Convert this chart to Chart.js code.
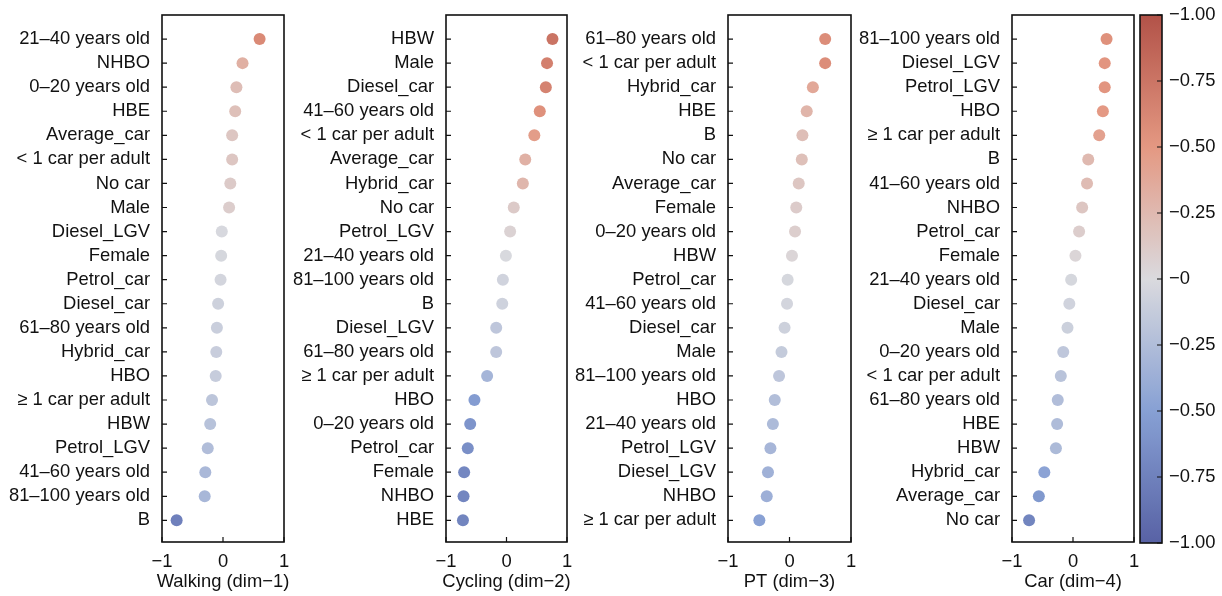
<!DOCTYPE html>
<html><head><meta charset="utf-8">
<script src="https://cdn.jsdelivr.net/npm/chart.js@4/dist/chart.umd.min.js"></script>
<style>
html,body{margin:0;padding:0;background:#fff;}
#wrap{position:relative;width:1222px;height:596px;overflow:hidden;background:#fff;}
canvas{position:absolute;top:0;}
</style></head><body><div id="wrap">
<canvas id="c1"></canvas><canvas id="c2"></canvas><canvas id="c3"></canvas><canvas id="c4"></canvas><canvas id="cb"></canvas>
</div>
<script>
// ---------- DATA ----------
const walkingLabels = ['21–40 years old','NHBO','0–20 years old','HBE','Average_car','< 1 car per adult','No car','Male','Diesel_LGV','Female','Petrol_car','Diesel_car','61–80 years old','Hybrid_car','HBO','≥ 1 car per adult','HBW','Petrol_LGV','41–60 years old','81–100 years old','B'];
const walkingValues = [0.60,0.32,0.22,0.20,0.15,0.15,0.12,0.10,-0.02,-0.03,-0.04,-0.08,-0.10,-0.11,-0.12,-0.18,-0.21,-0.25,-0.29,-0.30,-0.76];

const cyclingLabels = ['HBW','Male','Diesel_car','41–60 years old','< 1 car per adult','Average_car','Hybrid_car','No car','Petrol_LGV','21–40 years old','81–100 years old','B','Diesel_LGV','61–80 years old','≥ 1 car per adult','HBO','0–20 years old','Petrol_car','Female','NHBO','HBE'];
const cyclingValues = [0.76,0.67,0.65,0.55,0.46,0.31,0.27,0.12,0.06,-0.01,-0.06,-0.07,-0.17,-0.17,-0.32,-0.53,-0.60,-0.64,-0.70,-0.71,-0.72];

const ptLabels = ['61–80 years old','< 1 car per adult','Hybrid_car','HBE','B','No car','Average_car','Female','0–20 years old','HBW','Petrol_car','41–60 years old','Diesel_car','Male','81–100 years old','HBO','21–40 years old','Petrol_LGV','Diesel_LGV','NHBO','≥ 1 car per adult'];
const ptValues = [0.58,0.58,0.38,0.28,0.21,0.20,0.15,0.11,0.09,0.04,-0.03,-0.04,-0.08,-0.13,-0.17,-0.24,-0.27,-0.31,-0.35,-0.37,-0.49];

const carLabels = ['81–100 years old','Diesel_LGV','Petrol_LGV','HBO','≥ 1 car per adult','B','41–60 years old','NHBO','Petrol_car','Female','21–40 years old','Diesel_car','Male','0–20 years old','< 1 car per adult','61–80 years old','HBE','HBW','Hybrid_car','Average_car','No car'];
const carValues = [0.55,0.52,0.52,0.49,0.43,0.25,0.23,0.15,0.10,0.04,-0.03,-0.06,-0.09,-0.16,-0.20,-0.25,-0.26,-0.28,-0.47,-0.56,-0.72];

const axisTitles = ['Walking (dim−1)','Cycling (dim−2)','PT (dim−3)','Car (dim−4)'];
const xTickValues = [-1, 0, 1];
const cbTickValues = [1, 0.75, 0.5, 0.25, 0, -0.25, -0.5, -0.75, -1];
const cbTickLabels = ['−1.00','−0.75','−0.50','−0.25','−0','−0.25','−0.50','−0.75','−1.00'];

// ---------- STYLE ----------
const FONT = "'Liberation Sans', Arial, sans-serif";
const TXT = '#111';
const TICK_SIZE = 18.4;
const TITLE_SIZE = 18.4;
const stops = [[-1,[88,98,165]],[-0.5,[135,160,212]],[0,[218,218,222]],[0.5,[228,152,130]],[1,[178,82,72]]];
function cmap(v){
  v = Math.max(-1, Math.min(1, v));
  for (let i = 0; i < stops.length - 1; i++) {
    const [a, ca] = stops[i], [b, cb] = stops[i+1];
    if (v <= b) { const t = (v - a) / (b - a); return 'rgb(' + ca.map((c,k)=>Math.round(c + (cb[k]-c)*t)).join(',') + ')'; }
  }
  return 'rgb(' + stops[stops.length-1][1].join(',') + ')';
}
function fmt(v){ return v < 0 ? '−' + (-v) : String(v); }

const frame = {
  id: 'frame',
  afterDraw(chart, args, opts) {
    const {ctx, chartArea: a, scales} = chart;
    ctx.save();
    ctx.strokeStyle = '#111';
    ctx.lineWidth = 1.2;
    ctx.beginPath();
    if (opts.yTicks) {
      const y = scales.y;
      y.ticks.forEach(t => {
        const p = y.getPixelForValue(t.value);
        if (opts.yTicks === 'left') { ctx.moveTo(a.left, p); ctx.lineTo(a.left + 5, p); }
        else { ctx.moveTo(a.right, p); ctx.lineTo(a.right - 5, p); }
      });
    }
    if (opts.xTicks) {
      const x = scales.x;
      x.ticks.forEach(t => { const p = x.getPixelForValue(t.value); ctx.moveTo(p, a.bottom); ctx.lineTo(p, a.bottom - 5); });
    }
    ctx.stroke();
    ctx.lineWidth = 1.6;
    ctx.strokeRect(a.left, a.top, a.right - a.left, a.bottom - a.top);
    if (opts.title) {
      ctx.fillStyle = TXT;
      ctx.font = TITLE_SIZE + 'px ' + FONT;
      ctx.textAlign = 'center';
      ctx.textBaseline = 'middle';
      ctx.fillText(opts.title, (a.left + a.right) / 2, a.bottom + 40);
    }
    ctx.restore();
  }
};

const gradientBar = {
  id: 'gradientBar',
  beforeDatasetsDraw(chart, args, opts) {
    if (!opts.on) return;
    const {ctx, chartArea: a, scales} = chart;
    const y = scales.y;
    const g = ctx.createLinearGradient(0, a.top, 0, a.bottom);
    for (let v = 1; v >= -1.0001; v -= 0.05) {
      const off = (y.getPixelForValue(v) - a.top) / (a.bottom - a.top);
      g.addColorStop(Math.max(0, Math.min(1, off)), cmap(v));
    }
    ctx.save(); ctx.fillStyle = g; ctx.fillRect(a.left, a.top, a.right - a.left, a.bottom - a.top); ctx.restore();
  }
};

function panel(id, left, boxWidth, labels, values, title){
  const yWidth = 160;
  const cv = document.getElementById(id);
  const W = yWidth + boxWidth + 20;
  cv.width = W; cv.height = 596;
  cv.style.left = left + 'px'; cv.style.width = W + 'px'; cv.style.height = '596px';
  new Chart(cv, {
    type: 'scatter',
    data: { datasets: [{
      data: values.map((v, i) => ({x: v, y: i})),
      pointRadius: 6, pointHoverRadius: 6,
      pointBackgroundColor: values.map(cmap),
      pointBorderWidth: 0, borderWidth: 0
    }]},
    options: {
      responsive: false, animation: false, events: [],
      layout: { padding: { top: 15, right: 20, left: 0, bottom: 0 } },
      plugins: { legend: {display: false}, tooltip: {enabled: false}, frame: {yTicks: 'left', xTicks: true, title: title}, gradientBar: {on: false} },
      scales: {
        x: {
          type: 'linear', min: -1, max: 1,
          afterBuildTicks: s => { s.ticks = xTickValues.map(v => ({value: v})); },
          afterFit: s => { s.height = 54; },
          grid: {display: false, drawTicks: false}, border: {display: false},
          ticks: {padding: 9, color: TXT, font: {family: FONT, size: TICK_SIZE}, callback: v => fmt(v)},
          title: {display: false}
        },
        y: {
          type: 'linear', reverse: true, min: -1, max: 20.9,
          afterBuildTicks: s => { s.ticks = labels.map((_, i) => ({value: i})); },
          afterFit: s => { s.width = yWidth; s.paddingTop = 0; s.paddingBottom = 0; },
          grid: {display: false, drawTicks: false}, border: {display: false},
          ticks: {padding: 12, color: TXT, autoSkip: false, font: {family: FONT, size: TICK_SIZE}, callback: v => labels[v]}
        }
      }
    },
    plugins: [frame, gradientBar]
  });
}

panel('c1', 2, 122, walkingLabels, walkingValues, axisTitles[0]);
panel('c2', 286, 121, cyclingLabels, cyclingValues, axisTitles[1]);
panel('c3', 568, 123, ptLabels, ptValues, axisTitles[2]);
panel('c4', 852, 122, carLabels, carValues, axisTitles[3]);

// colorbar
(function(){
  const cv = document.getElementById('cb');
  cv.width = 92; cv.height = 596;
  cv.style.left = '1130px'; cv.style.width = '92px'; cv.style.height = '596px';
  new Chart(cv, {
    type: 'scatter',
    data: { datasets: [] },
    options: {
      responsive: false, animation: false, events: [],
      layout: { padding: { top: 15, left: 10, bottom: 53, right: 0 } },
      plugins: { legend: {display: false}, tooltip: {enabled: false}, frame: {yTicks: 'right', xTicks: false}, gradientBar: {on: true} },
      scales: {
        x: { display: false, min: 0, max: 1 },
        y: {
          type: 'linear', position: 'right', min: -1, max: 1,
          afterBuildTicks: s => { s.ticks = cbTickValues.map(v => ({value: v})); },
          afterFit: s => { s.width = 60; s.paddingTop = 0; s.paddingBottom = 0; },
          grid: {display: false, drawTicks: false}, border: {display: false},
          ticks: {padding: 7, color: TXT, autoSkip: false, font: {family: FONT, size: TICK_SIZE}, callback: (v, i) => cbTickLabels[i]}
        }
      }
    },
    plugins: [frame, gradientBar]
  });
})();
</script>
</body></html>
